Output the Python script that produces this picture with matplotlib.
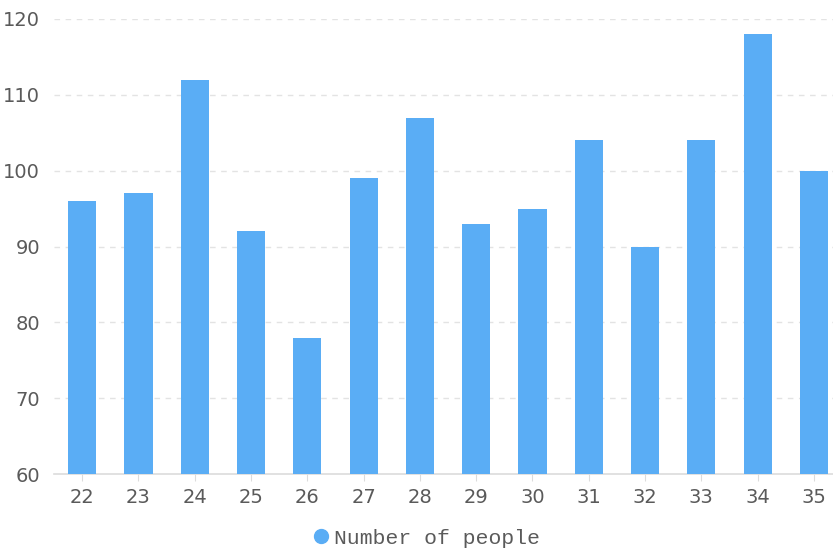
import matplotlib.pyplot as plt
from matplotlib.lines import Line2D

# dados do gráfico
idades = ['22', '23', '24', '25', '26', '27', '28', '29', '30', '31', '32', '33', '34', '35']
pessoas = [96, 97, 112, 92, 78, 99, 107, 93, 95, 104, 90, 104, 118, 100]
y_ticks = [60, 70, 80, 90, 100, 110, 120]

cor_barra = '#5AADF5'
cor_texto = '#5a5a5a'

fig = plt.figure(figsize=(8.33, 5.51), dpi=100)
W, H = 833, 551
# eixo em pixels: esquerda 54, direita ~842 (cortado), topo 19, base 474
ax = fig.add_axes([54 / W, (H - 474) / H, (842 - 54) / W, (474 - 19) / H])

x = range(len(idades))
ax.bar(x, pessoas, width=0.5, color=cor_barra, zorder=3)

ax.set_xlim(-0.5, len(idades) - 0.5)
ax.set_ylim(60, 120)
ax.set_yticks(y_ticks)
ax.set_xticks(list(x))
ax.set_xticklabels(idades)

# grade tracejada
for v in y_ticks[1:]:
    ax.axhline(v, color='#e3e3e3', linestyle=(0, (4, 4)), linewidth=1, zorder=1)

for lado in ['top', 'right', 'left']:
    ax.spines[lado].set_visible(False)
ax.spines['bottom'].set_color('#dcdcdc')
ax.spines['bottom'].set_linewidth(1.2)

ax.tick_params(axis='y', length=0, pad=10, labelsize=14, labelcolor=cor_texto)
ax.tick_params(axis='x', length=5, color='#dcdcdc', pad=5, labelsize=14, labelcolor=cor_texto)

# legenda embaixo
handle = Line2D([], [], marker='o', linestyle='', markersize=10,
                markerfacecolor=cor_barra, markeredgecolor=cor_barra)
fig.legend([handle], ['Number of people'], loc='center',
           bbox_to_anchor=(424 / W, 1 - 538 / H), frameon=False,
           handletextpad=0.0, handlelength=1.2,
           prop={'family': 'Liberation Mono', 'size': 15.4},
           labelcolor=cor_texto)

fig.savefig('out.png', dpi=100)
